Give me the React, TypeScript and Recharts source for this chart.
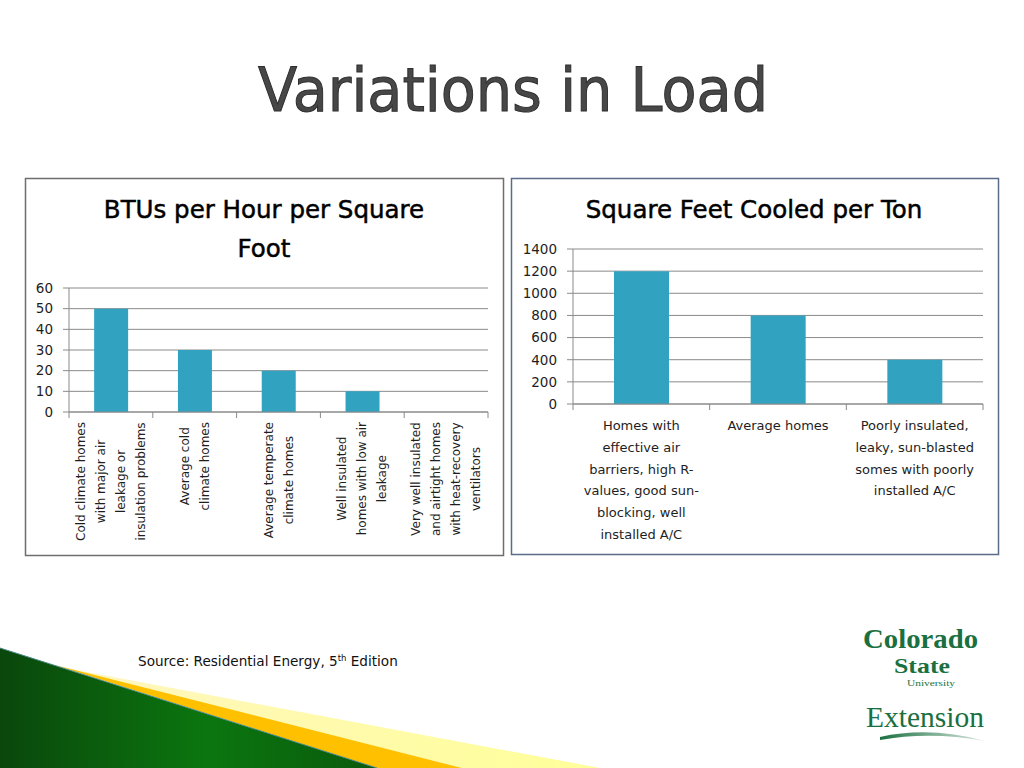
import React from 'react';
import { BarChart, Bar, XAxis, YAxis, CartesianGrid } from 'recharts';

// ---------- data ----------
const btuLabelLines: string[][] = [
  ['Cold climate homes', 'with major air', 'leakage or', 'insulation problems'],
  ['Average cold', 'climate homes'],
  ['Average temperate', 'climate homes'],
  ['Well insulated', 'homes with low air', 'leakage'],
  ['Very well insulated', 'and airtight homes', 'with heat-recovery', 'ventilators'],
];
const btuValues: number[] = [50, 30, 20, 10, 0];
const btuTicks: number[] = [0, 10, 20, 30, 40, 50, 60];

const tonLabelLines: string[][] = [
  ['Homes with', 'effective air', 'barriers, high R-', 'values, good sun-', 'blocking, well', 'installed A/C'],
  ['Average homes'],
  ['Poorly insulated,', 'leaky, sun-blasted', 'somes with poorly', 'installed A/C'],
];
const tonValues: number[] = [1200, 800, 400];
const tonTicks: number[] = [0, 200, 400, 600, 800, 1000, 1200, 1400];

const btuData = btuLabelLines.map((l, i) => ({ name: l.join(' '), value: btuValues[i] }));
const tonData = tonLabelLines.map((l, i) => ({ name: l.join(' '), value: tonValues[i] }));

// ---------- style ----------
const FONT = "'DejaVu Sans', Verdana, sans-serif";
const BAR = '#31a3c1';
const AXIS = '#8a8a8a';
const TEXT = '#1e1e1e';

let ctx: CanvasRenderingContext2D | null = null;
function measure(s: string, font: string): number {
  if (!ctx) ctx = document.createElement('canvas').getContext('2d');
  if (!ctx) return s.length * 7;
  ctx.font = font;
  return ctx.measureText(s).width;
}

// left chart geometry
const L_W = 479, L_H = 378;
const L_M = { top: 110, right: 16, left: 0, bottom: 4 };
const L_YW = 44;
const L_HALF = (L_W - L_M.right - L_YW) / btuValues.length / 2;

// right chart geometry
const R_W = 488, R_H = 377;
const R_M = { top: 71, right: 16, left: 0, bottom: 4 };
const R_YW = 62;
const R_HALF = (R_W - R_M.right - R_YW) / tonValues.length / 2;

function LeftTick(props: any) {
  const { x, y, index } = props;
  const lines = btuLabelLines[index] || [];
  const fs = 12;
  const maxW = Math.max(...lines.map((s) => measure(s, `${fs}px ${FONT}`)));
  const cy = y + 10 + maxW / 2;
  const n = lines.length;
  return (
    <g>
      <line x1={x - L_HALF} x2={x - L_HALF} y1={y} y2={y + 6} stroke={AXIS} />
      {index === btuLabelLines.length - 1 && (
        <line x1={x + L_HALF} x2={x + L_HALF} y1={y} y2={y + 6} stroke={AXIS} />
      )}
      {lines.map((s, i) => {
        const lx = x + (i - (n - 1) / 2) * 20;
        return (
          <text
            key={i}
            transform={`translate(${lx},${cy}) rotate(-90)`}
            textAnchor="middle"
            dominantBaseline="central"
            fontSize={fs}
            fill={TEXT}
            fontFamily={FONT}
          >
            {s}
          </text>
        );
      })}
    </g>
  );
}

function RightTick(props: any) {
  const { x, y, index } = props;
  const lines = tonLabelLines[index] || [];
  return (
    <g>
      <line x1={x - R_HALF} x2={x - R_HALF} y1={y} y2={y + 6} stroke={AXIS} />
      {index === tonLabelLines.length - 1 && (
        <line x1={x + R_HALF} x2={x + R_HALF} y1={y} y2={y + 6} stroke={AXIS} />
      )}
      {lines.map((s, i) => (
        <text
          key={i}
          x={x}
          y={y + 21.5 + i * 21.8}
          textAnchor="middle"
          dominantBaseline="central"
          fontSize={13}
          fill={TEXT}
          fontFamily={FONT}
        >
          {s}
        </text>
      ))}
    </g>
  );
}

function Background() {
  return (
    <svg width={1024} height={768} style={{ position: 'absolute', left: 0, top: 0 }}>
      <defs>
        <linearGradient id="greenGrad" x1="0" y1="0" x2="1" y2="0">
          <stop offset="0" stopColor="#0a470c" />
          <stop offset="0.55" stopColor="#0b760f" />
          <stop offset="1" stopColor="#0a5a0c" />
        </linearGradient>
        <linearGradient id="yellowGrad" x1="0" y1="0" x2="1" y2="0">
          <stop offset="0" stopColor="#fff6c0" />
          <stop offset="1" stopColor="#ffff99" />
        </linearGradient>
        <linearGradient id="swoosh" x1="0" y1="0" x2="1" y2="0">
          <stop offset="0" stopColor="#1a7040" />
          <stop offset="1" stopColor="#1a7040" stopOpacity="0.15" />
        </linearGradient>
      </defs>
      <rect x={0} y={0} width={1024} height={768} fill="#ffffff" />

      {/* main title */}
      <text
        x={513}
        y={111}
        textAnchor="middle"
        fontSize={60}
        fontFamily={FONT}
        fill="#474747"
        stroke="#2e2e2e"
        strokeWidth={1}
        textLength={510}
        lengthAdjust="spacingAndGlyphs"
      >
        Variations in Load
      </text>

      {/* chart boxes */}
      <rect x={25.5} y={178.5} width={478} height={377} fill="none" stroke="#6e6e6e" strokeWidth={1.5} />
      <rect x={511.5} y={178.5} width={487} height={376} fill="none" stroke="#5a6c88" strokeWidth={1.5} />

      {/* chart titles */}
      <g fontFamily={FONT} fontSize={24.5} fill="#000" stroke="#000" strokeWidth={0.5} textAnchor="middle">
        <text x={264} y={218}>BTUs per Hour per Square</text>
        <text x={264} y={257}>Foot</text>
        <text x={754} y={218}>Square Feet Cooled per Ton</text>
      </g>

      {/* decoration */}
      <polygon points="60,667 600,768 462,768" fill="url(#yellowGrad)" />
      <polygon points="55,665 462,768 377,768" fill="#ffc000" />
      <polygon points="0,648 377,768 0,768" fill="url(#greenGrad)" />
      <line x1={0} y1={648} x2={377} y2={768} stroke="#4a8a8a" strokeWidth={1} />

      {/* source */}
      <text x={138} y={666} fontSize={13.6} fontFamily={FONT} fill="#111">
        Source: Residential Energy, 5
        <tspan fontSize={8.5} dy={-5}>th</tspan>
        <tspan dy={5}> Edition</tspan>
      </text>

      {/* logo */}
      <g fontFamily="'Liberation Serif', serif" fill="#1a7040" fontWeight="bold">
        <text x={863} y={648} fontSize={27} textLength={115} lengthAdjust="spacingAndGlyphs">Colorado</text>
        <text x={894} y={673} fontSize={21} textLength={56} lengthAdjust="spacingAndGlyphs">State</text>
        <text x={907} y={686} fontSize={9} fontWeight="normal" textLength={48} lengthAdjust="spacingAndGlyphs">University</text>
        <text x={866} y={727} fontSize={30} fontWeight="normal" textLength={118} lengthAdjust="spacingAndGlyphs">Extension</text>
      </g>
      <path d="M880,737 Q930,726 985,741 Q930,731 880,740 Z" fill="url(#swoosh)" />
    </svg>
  );
}

export default function App() {
  return (
    <div style={{ position: 'absolute', left: 0, top: 0, width: 1024, height: 768, overflow: 'hidden', fontFamily: FONT }}>
      <Background />
      <div style={{ position: 'absolute', left: 25, top: 178 }}>
        <BarChart width={L_W} height={L_H} data={btuData} margin={L_M} barCategoryGap="30%">
          <CartesianGrid vertical={false} stroke={AXIS} strokeDasharray="" />
          <XAxis
            dataKey="name"
            interval={0}
            height={140}
            tickSize={0}
            tickMargin={0}
            tickLine={false}
            axisLine={{ stroke: AXIS }}
            tick={(p: any) => <LeftTick {...p} />}
          />
          <YAxis
            width={L_YW}
            domain={[0, 60]}
            ticks={btuTicks}
            interval={0}
            tickSize={6}
            tickMargin={10}
            axisLine={{ stroke: AXIS }}
            tickLine={{ stroke: AXIS }}
            tick={{ fill: TEXT, fontSize: 13.5, fontFamily: FONT }}
          />
          <Bar dataKey="value" fill={BAR} isAnimationActive={false} />
        </BarChart>
      </div>
      <div style={{ position: 'absolute', left: 511, top: 178 }}>
        <BarChart width={R_W} height={R_H} data={tonData} margin={R_M} barCategoryGap="30%">
          <CartesianGrid vertical={false} stroke={AXIS} strokeDasharray="" />
          <XAxis
            dataKey="name"
            interval={0}
            height={147}
            tickSize={0}
            tickMargin={0}
            tickLine={false}
            axisLine={{ stroke: AXIS }}
            tick={(p: any) => <RightTick {...p} />}
          />
          <YAxis
            width={R_YW}
            domain={[0, 1400]}
            ticks={tonTicks}
            interval={0}
            tickSize={6}
            tickMargin={10}
            axisLine={{ stroke: AXIS }}
            tickLine={{ stroke: AXIS }}
            tick={{ fill: TEXT, fontSize: 13.5, fontFamily: FONT }}
          />
          <Bar dataKey="value" fill={BAR} isAnimationActive={false} />
        </BarChart>
      </div>
    </div>
  );
}
